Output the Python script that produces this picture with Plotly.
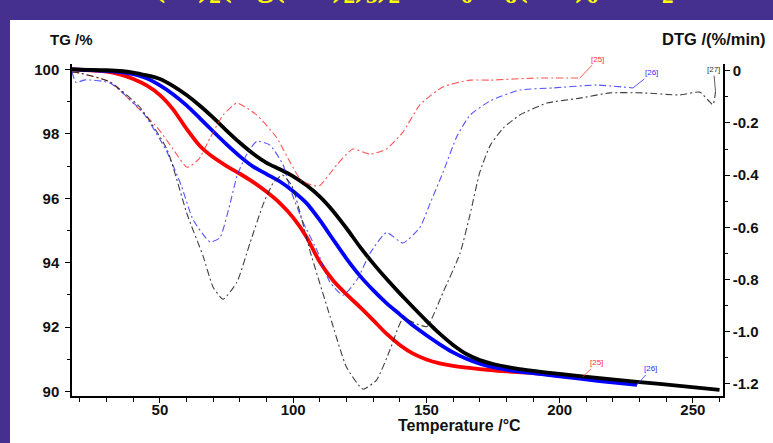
import plotly.graph_objects as go

# ---------------- data ----------------
# TG curves (solid, thick)
t_red_tg = [17, 30, 35, 40, 45, 50, 55, 60, 65, 70, 75, 80, 85, 90, 95, 100, 105, 110, 115, 120,
            125, 130, 135, 140, 145, 150, 155, 160, 170, 180, 195, 208.7]
tg_red = [100.0, 99.93, 99.84, 99.7, 99.5, 99.2, 98.75, 98.15, 97.62, 97.27, 97.0, 96.76, 96.5,
          96.2, 95.85, 95.4, 94.8, 94.02, 93.45, 93.02, 92.63, 92.22, 91.8, 91.45, 91.18, 91.0,
          90.88, 90.8, 90.7, 90.63, 90.55, 90.46]

t_blue_tg = [17, 30, 40, 45, 50, 55, 60, 65, 70, 75, 80, 85, 90, 95, 100, 105, 110, 115, 120, 125,
             130, 135, 140, 145, 150, 155, 160, 165, 170, 175, 185, 200, 215, 229]
tg_blue = [100.0, 99.95, 99.85, 99.72, 99.5, 99.22, 98.88, 98.48, 98.07, 97.67, 97.3, 96.98, 96.75,
           96.52, 96.22, 95.85, 95.32, 94.72, 94.13, 93.6, 93.15, 92.75, 92.4, 92.05, 91.75, 91.47,
           91.22, 91.02, 90.87, 90.76, 90.62, 90.48, 90.33, 90.21]

t_black_tg = [17, 30, 40, 50, 55, 60, 65, 70, 75, 80, 85, 90, 95, 100, 105, 110, 115, 120, 125,
              130, 135, 140, 145, 150, 155, 160, 165, 170, 175, 185, 200, 215, 230, 245, 260]
tg_black = [100.0, 99.97, 99.9, 99.7, 99.48, 99.2, 98.87, 98.5, 98.1, 97.72, 97.38, 97.1, 96.9,
            96.68, 96.4, 96.05, 95.6, 95.07, 94.5, 93.98, 93.5, 93.05, 92.62, 92.2, 91.8, 91.45,
            91.17, 90.98, 90.86, 90.7, 90.55, 90.42, 90.3, 90.18, 90.06]

# DTG curves (thin, dash-dot)
t_red_dtg = [17, 20, 31.3, 39.9, 48.9, 54.9, 60.2, 64.5, 68.8, 73.7, 78.9, 86.4, 93.9, 98.8, 103,
             107.4, 110, 116.4, 122.4, 128.8, 135, 141.2, 147.6, 156.2, 166.4, 174, 191.5, 207.6]
dtg_red = [-0.005, -0.009, -0.043, -0.124, -0.216, -0.30, -0.37, -0.34, -0.258, -0.17, -0.124, -0.17,
           -0.258, -0.35, -0.42, -0.44, -0.44, -0.36, -0.30, -0.32, -0.30, -0.235, -0.13, -0.062,
           -0.036, -0.036, -0.028, -0.028]

t_blue_dtg = [17, 18.5, 22, 31.3, 43.6, 52.6, 58, 62.4, 68.8, 72.5, 76.3, 79, 82.6, 86.4, 91.3,
              96.2, 98.8, 103.7, 109, 113.8, 118.7, 124, 128.8, 135, 141.2, 147.6, 151.3, 156.2,
              161.5, 166.4, 174, 185, 197.5, 214, 227.5]
dtg_blue = [-0.005, -0.045, -0.035, -0.047, -0.16, -0.31, -0.44, -0.57, -0.656, -0.64, -0.51, -0.40,
            -0.32, -0.27, -0.285, -0.36, -0.45, -0.58, -0.69, -0.81, -0.86, -0.80, -0.70, -0.62,
            -0.66, -0.60, -0.51, -0.39, -0.25, -0.17, -0.115, -0.074, -0.066, -0.055, -0.066]

t_black_dtg = [17, 20, 31.3, 42.5, 52.6, 60.2, 66.2, 70, 73.7, 78.9, 83.8, 88.8, 92.5, 96, 99.5,
               103, 106.3, 113.8, 120, 126.2, 131.3, 136.3, 141.2, 146.4, 150.2, 156.2, 162.6,
               166.4, 170, 174, 178.8, 185, 195.2, 207.6, 218.9, 231.3, 245, 252.6, 257.5, 258.5]
dtg_black = [-0.005, -0.009, -0.043, -0.14, -0.30, -0.55, -0.71, -0.83, -0.875, -0.81, -0.66, -0.51,
             -0.43, -0.40, -0.44, -0.56, -0.69, -0.94, -1.135, -1.22, -1.185, -1.07, -0.95, -0.97,
             -0.98, -0.85, -0.70, -0.55, -0.39, -0.285, -0.22, -0.17, -0.124, -0.105, -0.085,
             -0.085, -0.093, -0.082, -0.13, -0.08]

x_ticks = [50, 100, 150, 200, 250]
tg_ticks = [90, 92, 94, 96, 98, 100]
dtg_ticks = [0, -0.2, -0.4, -0.6, -0.8, -1.0, -1.2]
dtg_ticktext = ["0", "-0.2", "-0.4", "-0.6", "-0.8", "-1.0", "-1.2"]

# ---------------- figure ----------------
FONT = "Liberation Sans, Arial, sans-serif"
fig = go.Figure()

dash = "7px,3px,2px,3px"
for t, d, c in [(t_red_dtg, dtg_red, "rgba(255,40,40,0.8)"),
                (t_blue_dtg, dtg_blue, "rgba(40,40,255,0.8)"),
                (t_black_dtg, dtg_black, "rgba(30,30,30,0.85)")]:
    fig.add_trace(go.Scatter(x=t, y=d, yaxis="y2", mode="lines", hoverinfo="skip",
                             line=dict(color=c, width=1.1, dash=dash, shape="spline", smoothing=0.5)))

for t, g, c in [(t_red_tg, tg_red, "#ff0000"), (t_blue_tg, tg_blue, "#0000ff"),
                (t_black_tg, tg_black, "#000000")]:
    fig.add_trace(go.Scatter(x=t, y=g, yaxis="y", mode="lines", hoverinfo="skip",
                             line=dict(color=c, width=3.8, shape="spline", smoothing=0.6)))

axis_common = dict(showgrid=False, zeroline=False, showline=True, linecolor="black", linewidth=1.5,
                   ticks="outside", ticklen=5, tickwidth=1.2, tickcolor="black",
                   tickfont=dict(family=FONT, size=15, color="#111"))

fig.update_layout(
    width=773, height=443,
    margin=dict(l=72, r=50, t=64, b=47),
    paper_bgcolor="#45308f", plot_bgcolor="white",
    showlegend=False,
    xaxis=dict(range=[17, 261.3], tickvals=x_ticks, ticktext=["<b>%d</b>" % v for v in x_ticks],
               minor=dict(dtick=10, tick0=0, ticklen=4, ticks="outside", tickcolor="black"),
               ticklabelstandoff=-6, **axis_common),
    yaxis=dict(range=[89.867, 100.164], tickvals=tg_ticks, ticktext=["<b>%d</b>" % v for v in tg_ticks],
               minor=dict(dtick=1, tick0=0, ticklen=3, ticks="outside", tickcolor="black"),
               ticklabelstandoff=3, **axis_common),
    yaxis2=dict(range=[-1.246, 0.0257], overlaying="y", side="right", tickvals=dtg_ticks,
                ticktext=["<b>%s</b>" % s for s in dtg_ticktext],
                minor=dict(dtick=0.1, tick0=0, ticklen=3, ticks="outside", tickcolor="black"),
                ticklabelstandoff=0, **axis_common),
    shapes=[dict(type="rect", xref="paper", yref="paper", x0=-0.0952, x1=1.08, y0=-0.2, y1=1.1325,
                 fillcolor="white", line=dict(width=0), layer="below")],
)

ann = []
# axis titles
ann.append(dict(text="<b>TG /%</b>", xref="paper", yref="paper", x=-0.0015, y=1.0753,
                xanchor="center", yanchor="middle", showarrow=False,
                font=dict(family=FONT, size=15, color="#111")))
ann.append(dict(text="<b>DTG /(%/min)</b>", xref="paper", yref="paper", x=0.9032, y=1.0753,
                xanchor="left", yanchor="middle", showarrow=False,
                font=dict(family=FONT, size=16.5, color="#111")))
ann.append(dict(text="<b>Temperature /°C</b>", xref="paper", yref="paper", x=0.596, y=-0.089,
                xanchor="center", yanchor="middle", showarrow=False,
                font=dict(family=FONT, size=16, color="#111")))
# cut-off slide title
ann.append(dict(text="<b>[Cu(en)<sub>2</sub>(Hg(CN)<sub>2</sub>)<sub>3</sub>)<sub>2</sub>][Re<sub>6</sub>Se<sub>8</sub>(CN)<sub>6</sub>]·5H<sub>2</sub>O</b>",
                xref="paper", yref="paper", x=0.504, y=1.1627, xanchor="center", yanchor="bottom",
                showarrow=False, font=dict(family="Liberation Serif, Times New Roman, serif", size=33,
                                            color="#ffff00")))

# reference labels with leader lines, anchored at the ends of the series
def label(txt, x, y, yref, ax, ay, col):
    ann.append(dict(text=txt, x=x, y=y, xref="x", yref=yref, ax=ax, ay=ay, showarrow=True,
                    arrowhead=0, arrowwidth=0.8, arrowcolor=col, standoff=0,
                    font=dict(family=FONT, size=8, color=col)))

label("[25]", t_red_dtg[-1], dtg_red[-1], "y2", 18, -19, "#ff3030")
label("[26]", t_blue_dtg[-1], dtg_blue[-1], "y2", 19, -15, "#3030ff")
label("[27]", t_black_dtg[-1], dtg_black[-1], "y2", -2, -22, "#333333")
label("[25]", t_red_tg[-1], tg_red[-1], "y", 14, -14, "#ff3030")
label("[26]", t_blue_tg[-1], tg_blue[-1], "y", 14, -16, "#3030ff")
fig.update_layout(annotations=ann)

fig.write_html("out.html")
